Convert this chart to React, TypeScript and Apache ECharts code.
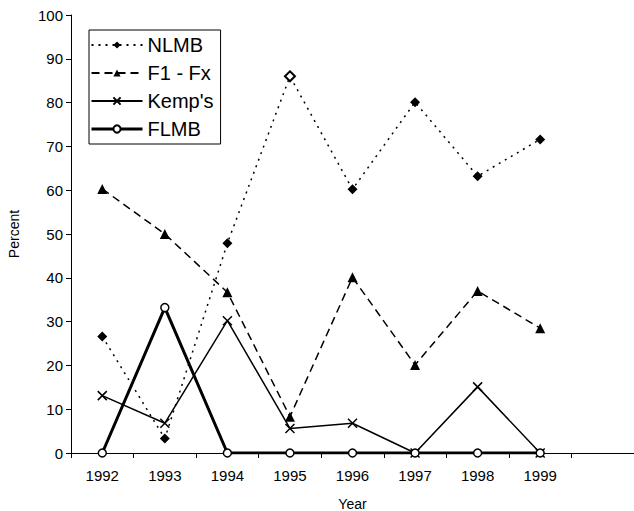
import React, { useEffect, useRef } from "react";
import * as echarts from "echarts";

const years = ["1992", "1993", "1994", "1995", "1996", "1997", "1998", "1999", ""];
const nlmb = [26.6, 3.3, 47.9, 86, 60.2, 80.1, 63.2, 71.6];
const f1fx = [60.3, 50, 36.7, 8.3, 40.1, 20.1, 37, 28.5];
const kemps = [13.1, 6.8, 30.2, 5.6, 6.8, 0, 15.1, 0];
const flmb = [0, 33.2, 0, 0, 0, 0, 0, 0];
const seriesNames = ["NLMB", "F1 - Fx", "Kemp's", "FLMB"];
const legendLineWidths = [2, 2, 2, 3];

const FONT = "'Liberation Sans', Arial, sans-serif";

export default function App() {
  const ref = useRef<HTMLDivElement>(null);
  useEffect(() => {
    if (!ref.current) return;
    const chart = echarts.init(ref.current, null, { renderer: "svg" });
    const black = "#000";
    chart.setOption({
      animation: false,
      backgroundColor: "#fff",
      textStyle: { fontFamily: FONT, color: black },
      grid: {
        left: 71,
        top: 15,
        right: 0,
        bottom: 58,
        containLabel: false,
        outerBoundsMode: "none",
      },
      legend: {
        orient: "vertical",
        left: 89,
        top: 30,
        borderColor: black,
        borderWidth: 1,
        padding: [5, 7, 5, 1],
        itemWidth: 51,
        itemHeight: 9,
        itemGap: 8,
        textStyle: { fontFamily: FONT, fontSize: 20, color: black },
        data: seriesNames.map((n, i) => ({
          name: n,
          lineStyle: { width: legendLineWidths[i] },
        })),
      },
      xAxis: {
        type: "category",
        data: years,
        boundaryGap: true,
        name: "Year",
        nameLocation: "middle",
        nameGap: 44,
        nameTextStyle: { fontFamily: FONT, fontSize: 14, color: black },
        axisLine: { lineStyle: { color: black, width: 1 } },
        axisTick: { show: true, length: 5, interval: 0, lineStyle: { color: black } },
        axisLabel: { fontFamily: FONT, fontSize: 15, color: black, margin: 15, interval: 0 },
        splitLine: { show: false },
      },
      yAxis: {
        type: "value",
        min: 0,
        max: 100,
        interval: 10,
        name: "Percent",
        nameLocation: "middle",
        nameGap: 50,
        nameTextStyle: { fontFamily: FONT, fontSize: 14, color: black },
        axisLine: { show: true, lineStyle: { color: black, width: 1 } },
        axisTick: { show: true, length: 5, lineStyle: { color: black } },
        axisLabel: { fontFamily: FONT, fontSize: 15, color: black, margin: 8 },
        splitLine: { show: false },
      },
      series: [
        {
          name: seriesNames[0],
          type: "line",
          data: nlmb.map((v, i) =>
            i === 3
              ? { value: v, itemStyle: { color: "#fff", borderColor: black, borderWidth: 2 } }
              : v
          ),
          symbol: "diamond",
          symbolSize: 10,
          lineStyle: { color: black, width: 1.5, type: [2, 5] },
          itemStyle: { color: black },
          z: 2,
        },
        {
          name: seriesNames[1],
          type: "line",
          data: f1fx,
          symbol: "triangle",
          symbolSize: 10,
          lineStyle: { color: black, width: 1.5, type: [8, 5] },
          itemStyle: { color: black },
          z: 3,
        },
        {
          name: seriesNames[2],
          type: "line",
          data: kemps,
          symbol: "path://M0,0L10,10M10,0L0,10",
          symbolSize: 9,
          lineStyle: { color: black, width: 1.5 },
          itemStyle: { color: black, borderColor: black, borderWidth: 1.5 },
          z: 4,
        },
        {
          name: seriesNames[3],
          type: "line",
          data: flmb,
          symbol: "circle",
          symbolSize: 8,
          lineStyle: { color: black, width: 3 },
          itemStyle: { color: "#fff", borderColor: black, borderWidth: 1.5 },
          z: 5,
        },
      ],
    });
    return () => chart.dispose();
  }, []);
  return (
    <div
      ref={ref}
      style={{ position: "fixed", left: 0, top: 0, width: 634, height: 511, background: "#fff" }}
    />
  );
}
